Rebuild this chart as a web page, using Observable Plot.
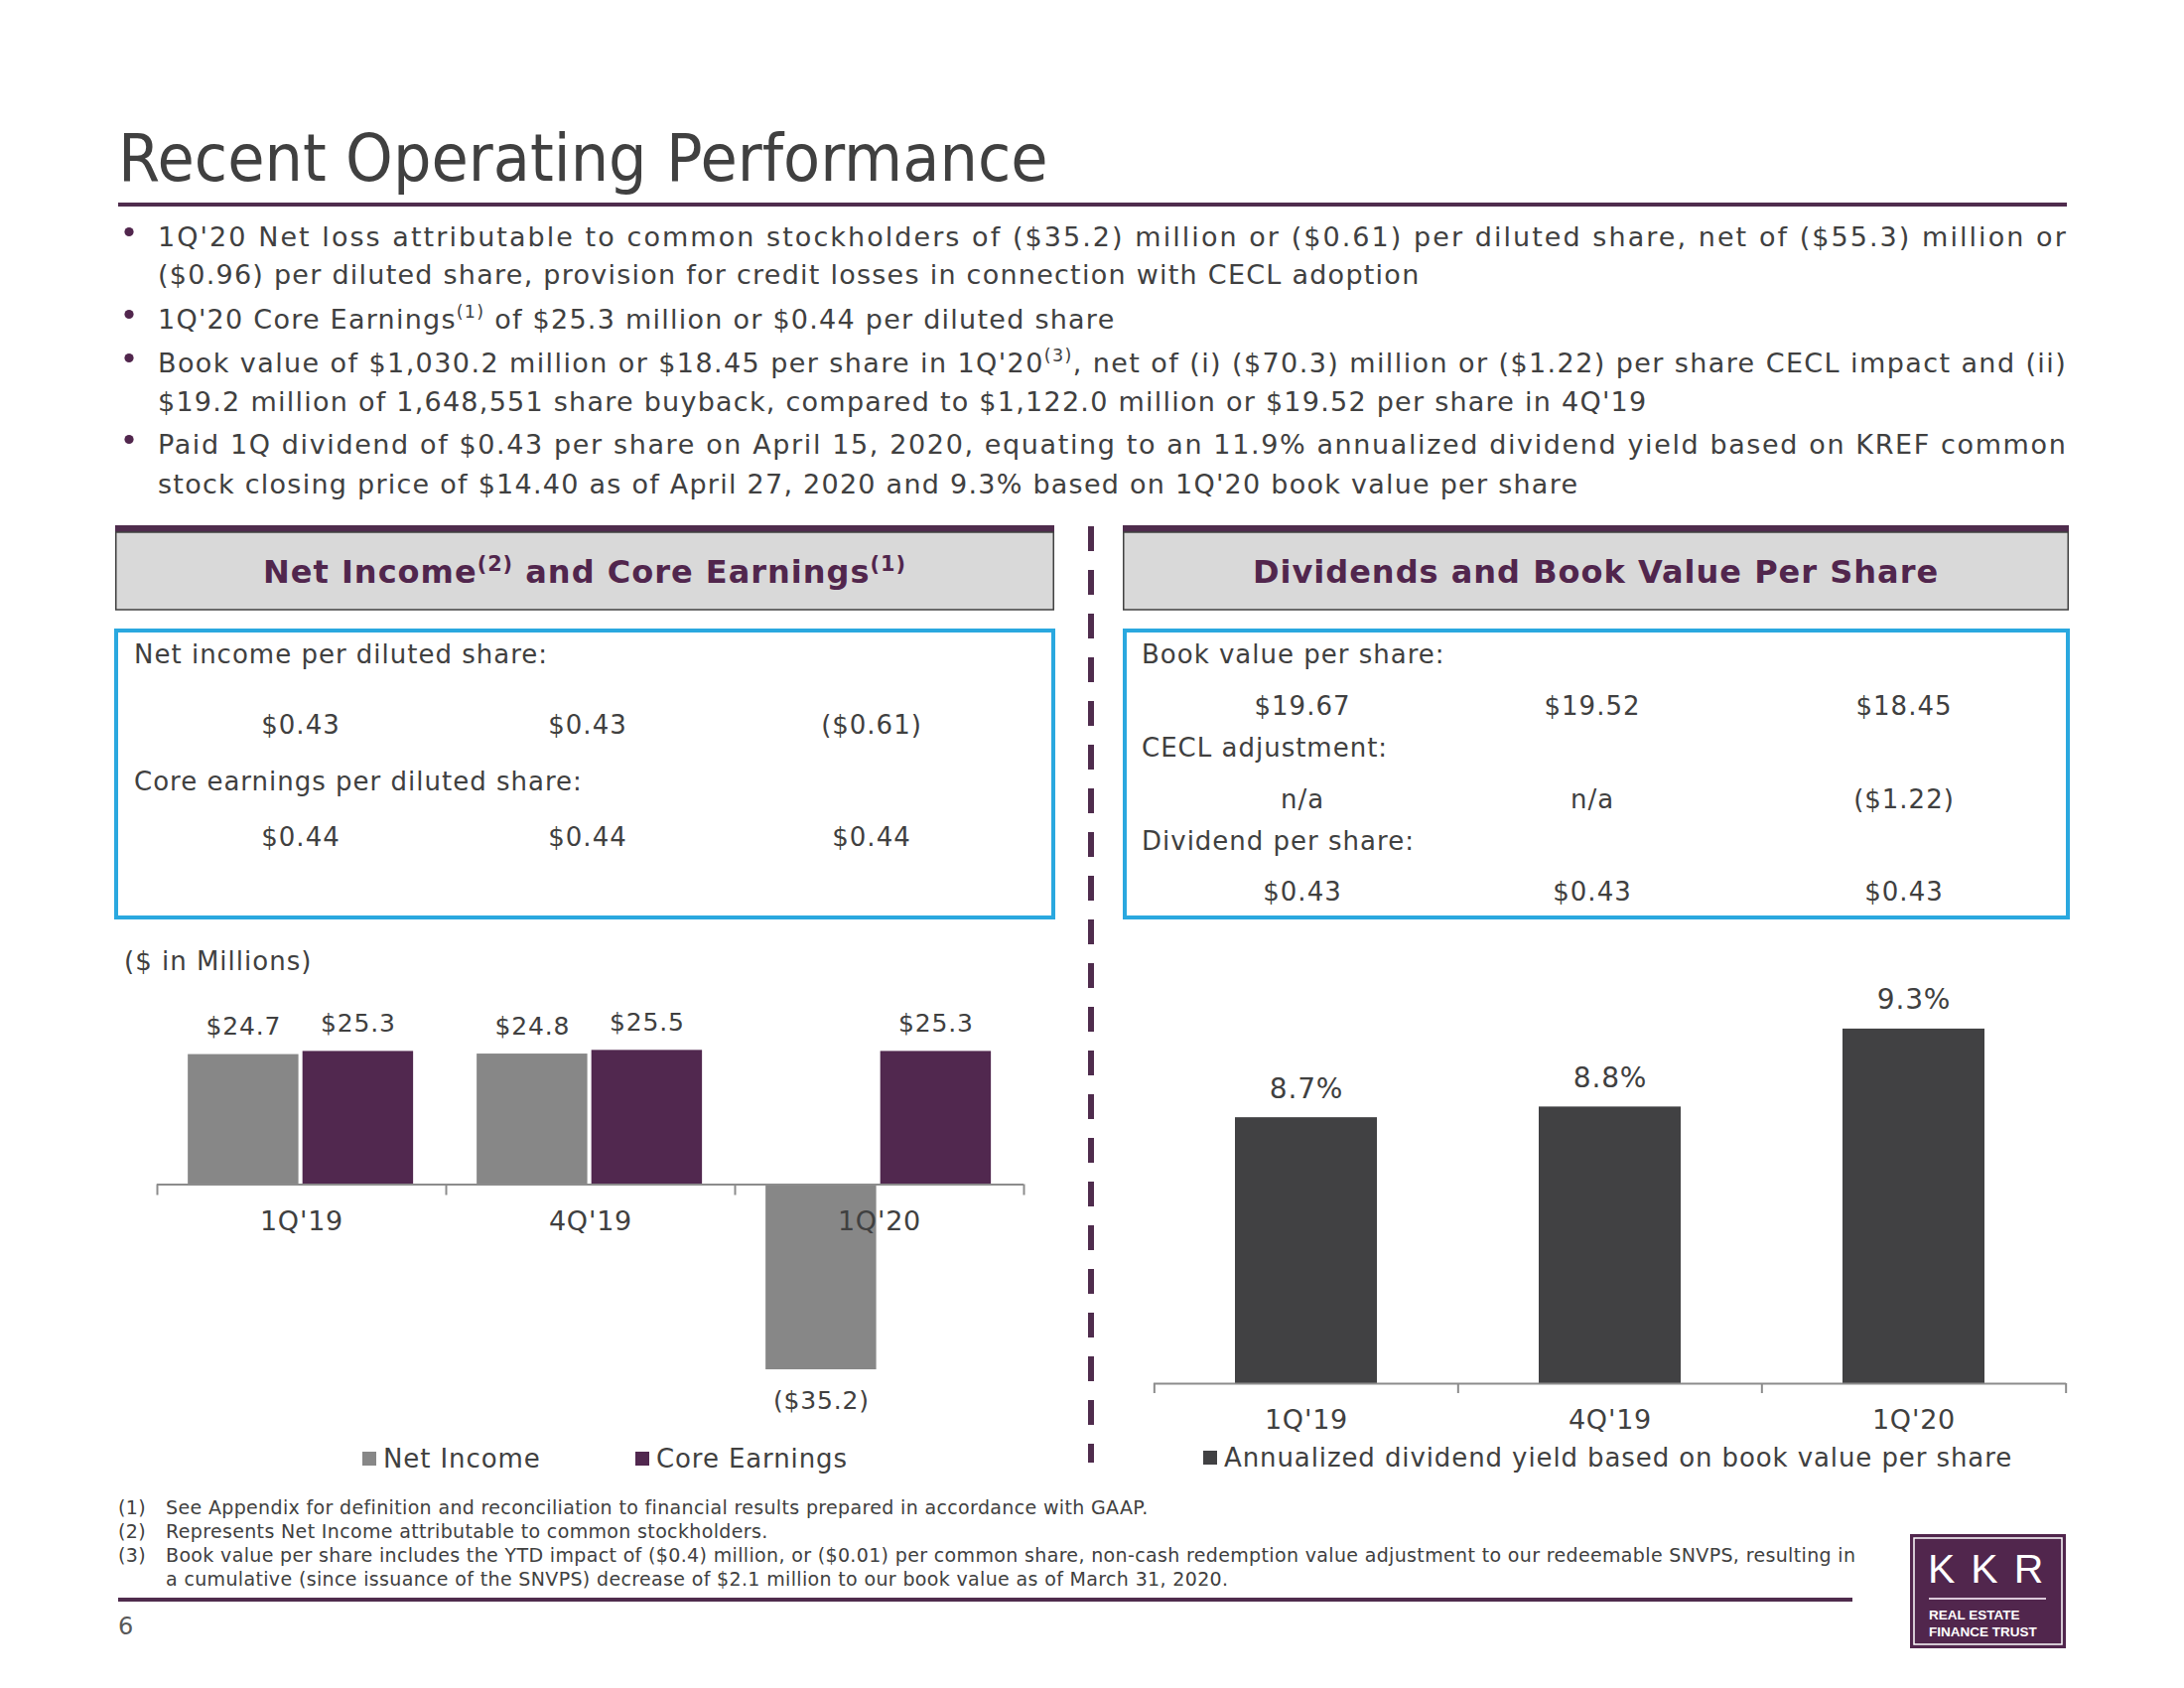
<!DOCTYPE html>
<html><head><meta charset="utf-8">
<script src="https://cdn.jsdelivr.net/npm/d3@7"></script>
<script src="https://cdn.jsdelivr.net/npm/@observablehq/plot@0.6"></script>
<style>
html,body{margin:0;padding:0;background:#fff;}
#slide{position:relative;width:2200px;height:1700px;overflow:hidden;font-family:"DejaVu Sans",Verdana,sans-serif;color:#404040;background:#fff;}
#bg{position:absolute;left:0;top:0;}
.chart{position:absolute;}
.legend{position:absolute;font-size:26px;line-height:30px;letter-spacing:0.9px;display:flex;align-items:center;white-space:nowrap;color:#404040;}
.sw{display:inline-block;width:14px;height:14px;margin-right:7px;}
</style></head><body><div id="slide"></div>
<script>
// ---------- DATA ----------
const quarters = ["1Q'19", "4Q'19", "1Q'20"];
const seriesNames = ["Net Income", "Core Earnings"];
const netIncome = [24.7, 24.8, -35.2];          // $ millions
const coreEarnings = [25.3, 25.5, 25.3];        // $ millions
const yieldSeriesName = "Annualized dividend yield based on book value per share";
const dividendYield = [8.74, 8.81, 9.32];       // % (labels 8.7%, 8.8%, 9.3%)
const yieldAxisMin = 7;
const netIncomePerShare = ["$0.43", "$0.43", "($0.61)"];
const coreEarningsPerShare = ["$0.44", "$0.44", "$0.44"];
const bookValuePerShare = ["$19.67", "$19.52", "$18.45"];
const ceclAdjustment = ["n/a", "n/a", "($1.22)"];
const dividendPerShare = ["$0.43", "$0.43", "$0.43"];

const titleText = "Recent Operating Performance";
const bullets = [
  [["1Q'20 Net loss attributable to common stockholders of ($35.2) million or ($0.61) per diluted share, net of ($55.3) million or"],
   ["($0.96) per diluted share, provision for credit losses in connection with CECL adoption"]],
  [["1Q'20 Core Earnings", ["(1)"], " of $25.3 million or $0.44 per diluted share"]],
  [["Book value of $1,030.2 million or $18.45 per share in 1Q'20", ["(3)"], ", net of (i) ($70.3) million or ($1.22) per share CECL impact and (ii)"],
   ["$19.2 million of 1,648,551 share buyback, compared to $1,122.0 million or $19.52 per share in 4Q'19"]],
  [["Paid 1Q dividend of $0.43 per share on April 15, 2020, equating to an 11.9% annualized dividend yield based on KREF common"],
   ["stock closing price of $14.40 as of April 27, 2020 and 9.3% based on 1Q'20 book value per share"]]
];
const footnotes = [
  ["(1)", "See Appendix for definition and reconciliation to financial results prepared in accordance with GAAP."],
  ["(2)", "Represents Net Income attributable to common stockholders."],
  ["(3)", "Book value per share includes the YTD impact of ($0.4) million, or ($0.01) per common share, non-cash redemption value adjustment to our redeemable SNVPS, resulting in"],
  ["", "a cumulative (since issuance of the SNVPS) decrease of $2.1 million to our book value as of March 31, 2020."]
];

// ---------- STYLE ----------
const TXT = "#404040", PURPLE = "#51264d", RULE = "#4f2c4d", BLUE = "#2aa8df";
const GRAY = "#878787", COREC = "#51284f", DARK = "#414143", AXIS = "#8c8c8c";
const FONT = "DejaVu Sans, Verdana, sans-serif";

const esc = s => s.replace(/&/g, "&amp;").replace(/</g, "&lt;");
function segs(parts, size) {
  let out = "", up = false;
  for (const p of parts) {
    if (Array.isArray(p)) { out += `<tspan dy="${-size*0.38}" font-size="${size*0.65}">${esc(p[0])}</tspan>`; up = true; }
    else { out += up ? `<tspan dy="${size*0.38}">${esc(p)}</tspan>` : esc(p); up = false; }
  }
  return out;
}
function txt(x, y, s, a = "") { return `<text x="${x}" y="${y}" ${a}>${esc(s)}</text>`; }

let g = "";
// title
g += `<text transform="translate(119,182) scale(0.92,1)" font-size="66" fill="${TXT}">${esc(titleText)}</text>`;
g += `<rect x="119" y="204" width="1963" height="4" fill="${RULE}"/>`;
// bullets
const lineBase = [[247.5, 285.5], [330.5], [374.5, 413.5], [456.5, 496.5]];
bullets.forEach((b, i) => {
  g += `<circle cx="130" cy="${lineBase[i][0] - 14}" r="4.6" fill="${PURPLE}"/>`;
  b.forEach((ln, j) => {
    const full = j < b.length - 1;
    g += `<text x="159" y="${lineBase[i][j]}" font-size="27" letter-spacing="1.25" fill="${TXT}" ${full ? 'textLength="1923" lengthAdjust="spacing"' : ""}>${segs(ln, 27)}</text>`;
  });
});
// panel headers
function header(x0, x1, parts) {
  let s = `<rect x="${x0}" y="529" width="${x1 - x0}" height="7" fill="${RULE}"/>`;
  s += `<rect x="${x0 + 0.75}" y="536" width="${x1 - x0 - 1.5}" height="78" fill="#d9d9d9" stroke="#404040" stroke-width="1.5"/>`;
  s += `<text x="${(x0 + x1) / 2}" y="587" text-anchor="middle" font-size="32" letter-spacing="1" font-weight="bold" fill="${PURPLE}">${segs(parts, 32)}</text>`;
  return s;
}
g += header(116, 1062, ["Net Income", ["(2)"], " and Core Earnings", ["(1)"]]);
g += header(1131, 2084, ["Dividends and Book Value Per Share"]);
// boxes
g += `<rect x="117" y="635" width="944" height="289" fill="none" stroke="${BLUE}" stroke-width="4"/>`;
g += `<rect x="1133" y="635" width="950" height="289" fill="none" stroke="${BLUE}" stroke-width="4"/>`;
const ta = `font-size="26" letter-spacing="1" fill="${TXT}"`;
const tm = `font-size="26" letter-spacing="1" fill="${TXT}" text-anchor="middle"`;
const colL = [303, 592, 878], colR = [1312, 1604, 1918];
g += txt(135, 668, "Net income per diluted share:", ta);
netIncomePerShare.forEach((v, i) => g += txt(colL[i], 739, v, tm));
g += txt(135, 796, "Core earnings per diluted share:", ta);
coreEarningsPerShare.forEach((v, i) => g += txt(colL[i], 852, v, tm));
g += txt(1150, 668, "Book value per share:", ta);
bookValuePerShare.forEach((v, i) => g += txt(colR[i], 720, v, tm));
g += txt(1150, 762, "CECL adjustment:", ta);
ceclAdjustment.forEach((v, i) => g += txt(colR[i], 814, v, tm));
g += txt(1150, 856, "Dividend per share:", ta);
dividendPerShare.forEach((v, i) => g += txt(colR[i], 907, v, tm));
// divider
g += `<line x1="1099" x2="1099" y1="530" y2="1473" stroke="${RULE}" stroke-width="6" stroke-dasharray="25 19"/>`;
g += txt(125, 977, "($ in Millions)", ta);
// footnotes
footnotes.forEach((f, i) => {
  const y = 1524.5 + i * 24;
  if (f[0]) g += txt(119, y, f[0], `font-size="19" letter-spacing="0.35" fill="${TXT}"`);
  g += txt(167, y, f[1], `font-size="19" letter-spacing="0.35" fill="${TXT}"`);
});
g += `<rect x="119" y="1609" width="1747" height="4" fill="${RULE}"/>`;
g += txt(119, 1646, "6", `font-size="24" fill="#595959"`);
// logo
g += `<rect x="1924" y="1545" width="157" height="115" fill="${PURPLE}"/>`;
g += `<rect x="1928" y="1549" width="149" height="107" fill="none" stroke="#ffffff" stroke-width="1.5"/>`;
g += `<text x="1942" y="1594" font-family="Liberation Sans, Arial, sans-serif" font-size="41" letter-spacing="16" fill="#ffffff">KKR</text>`;
g += `<line x1="1943" x2="2061" y1="1610" y2="1610" stroke="#dcc8da" stroke-width="2"/>`;
g += `<text x="1943" y="1631" font-family="Liberation Sans, Arial, sans-serif" font-weight="bold" font-size="13.5" fill="#ffffff">REAL ESTATE</text>`;
g += `<text x="1943" y="1648" font-family="Liberation Sans, Arial, sans-serif" font-weight="bold" font-size="13.5" fill="#ffffff">FINANCE TRUST</text>`;

const slide = document.getElementById("slide");
slide.insertAdjacentHTML("beforeend", `<svg id="bg" width="2200" height="1700" font-family="${FONT}">${g}</svg>`);

// ---------- LEFT CHART ----------
const niData = quarters.map((q, i) => ({q, s: seriesNames[0], v: netIncome[i]}));
const ceData = quarters.map((q, i) => ({q, s: seriesNames[1], v: coreEarnings[i]}));
const fmtM = v => v < 0 ? `($${Math.abs(v).toFixed(1)})` : `$${v.toFixed(1)}`;
const L = {left: 118, top: 997, width: 940, height: 444, mt: 10, mb: 10, ml: 40, mr: 27};
const step1 = (L.width - L.ml - L.mr) / quarters.length;
const outer = 0.107 * step1, barW = 0.383 * step1, gap = 0.014 * step1;
const niDx = outer + barW / 2 - step1 / 2;
const ceDx = outer + barW + gap + barW / 2 - step1 / 2;
const chartStyle = {fontFamily: FONT, fontSize: "26px", color: TXT, background: "transparent", overflow: "visible", letterSpacing: "0.8px"};

const leftPlot = Plot.plot({
  width: L.width, height: L.height,
  marginTop: L.mt, marginBottom: L.mb, marginLeft: L.ml, marginRight: L.mr,
  style: chartStyle,
  x: {domain: quarters, padding: 0, axis: null},
  y: {domain: [-45, 35], axis: null},
  marks: [
    Plot.barY(niData, {x: "q", y: "v", fill: GRAY, insetLeft: outer, insetRight: step1 - outer - barW}),
    Plot.barY(ceData, {x: "q", y: "v", fill: COREC, insetLeft: outer + barW + gap, insetRight: step1 - outer - 2 * barW - gap}),
    Plot.ruleY([0], {stroke: AXIS, strokeWidth: 2}),
    Plot.ruleX(quarters, {x: d => d, y1: 0, y2: 0, insetTop: 11, dx: -step1 / 2, stroke: AXIS, strokeWidth: 2}),
    Plot.ruleX(quarters.slice(-1), {x: d => d, y1: 0, y2: 0, insetTop: 11, dx: step1 / 2, stroke: AXIS, strokeWidth: 2}),
    Plot.text(quarters, {x: d => d, y: 0, dy: 37, text: d => d, fill: TXT, fontSize: 27}),
    Plot.text(niData, {filter: d => d.v >= 0, x: "q", y: "v", dx: niDx, dy: -28, text: d => fmtM(d.v), fill: TXT, fontSize: 25}),
    Plot.text(niData, {filter: d => d.v < 0, x: "q", y: "v", dx: niDx, dy: 31, text: d => fmtM(d.v), fill: TXT, fontSize: 25}),
    Plot.text(ceData, {x: "q", y: "v", dx: ceDx, dy: -28, text: d => fmtM(d.v), fill: TXT, fontSize: 25})
  ]
});
leftPlot.classList.add("chart");
leftPlot.style.left = L.left + "px"; leftPlot.style.top = L.top + "px";
slide.appendChild(leftPlot);

// ---------- RIGHT CHART ----------
const yData = quarters.map((q, i) => ({q, v: dividendYield[i]}));
const R = {left: 1140, top: 952, width: 960, height: 501, mt: 10, mb: 60, ml: 22, mr: 19};
const step2 = (R.width - R.ml - R.mr) / quarters.length;
const rightPlot = Plot.plot({
  width: R.width, height: R.height,
  marginTop: R.mt, marginBottom: R.mb, marginLeft: R.ml, marginRight: R.mr,
  style: chartStyle,
  x: {domain: quarters, paddingInner: 0.533, paddingOuter: 0.2665, axis: null},
  y: {domain: [yieldAxisMin, 9.8], clamp: true, axis: null},
  marks: [
    Plot.barY(yData, {x: "q", y: "v", fill: DARK}),
    Plot.ruleY([yieldAxisMin], {stroke: AXIS, strokeWidth: 2}),
    Plot.ruleX(quarters, {x: d => d, y1: yieldAxisMin, y2: yieldAxisMin, insetTop: 10, dx: -step2 / 2, stroke: AXIS, strokeWidth: 2}),
    Plot.ruleX(quarters.slice(-1), {x: d => d, y1: yieldAxisMin, y2: yieldAxisMin, insetTop: 10, dx: step2 / 2, stroke: AXIS, strokeWidth: 2}),
    Plot.text(quarters, {x: d => d, y: yieldAxisMin, dy: 37, text: d => d, fill: TXT, fontSize: 27}),
    Plot.text(yData, {x: "q", y: "v", dy: -29, text: d => d.v.toFixed(1) + "%", fill: TXT, fontSize: 28})
  ]
});
rightPlot.classList.add("chart");
rightPlot.style.left = R.left + "px"; rightPlot.style.top = R.top + "px";
slide.appendChild(rightPlot);

// ---------- LEGENDS ----------
function legendItem(x, yc, color, label) {
  const d = document.createElement("div");
  d.className = "legend";
  d.style.left = x + "px"; d.style.top = (yc - 15) + "px";
  d.innerHTML = `<span class="sw" style="background:${color}"></span><span>${label}</span>`;
  slide.appendChild(d);
}
legendItem(365, 1469, GRAY, seriesNames[0]);
legendItem(640, 1469, COREC, seriesNames[1]);
legendItem(1212, 1468, DARK, yieldSeriesName);
</script></body></html>
